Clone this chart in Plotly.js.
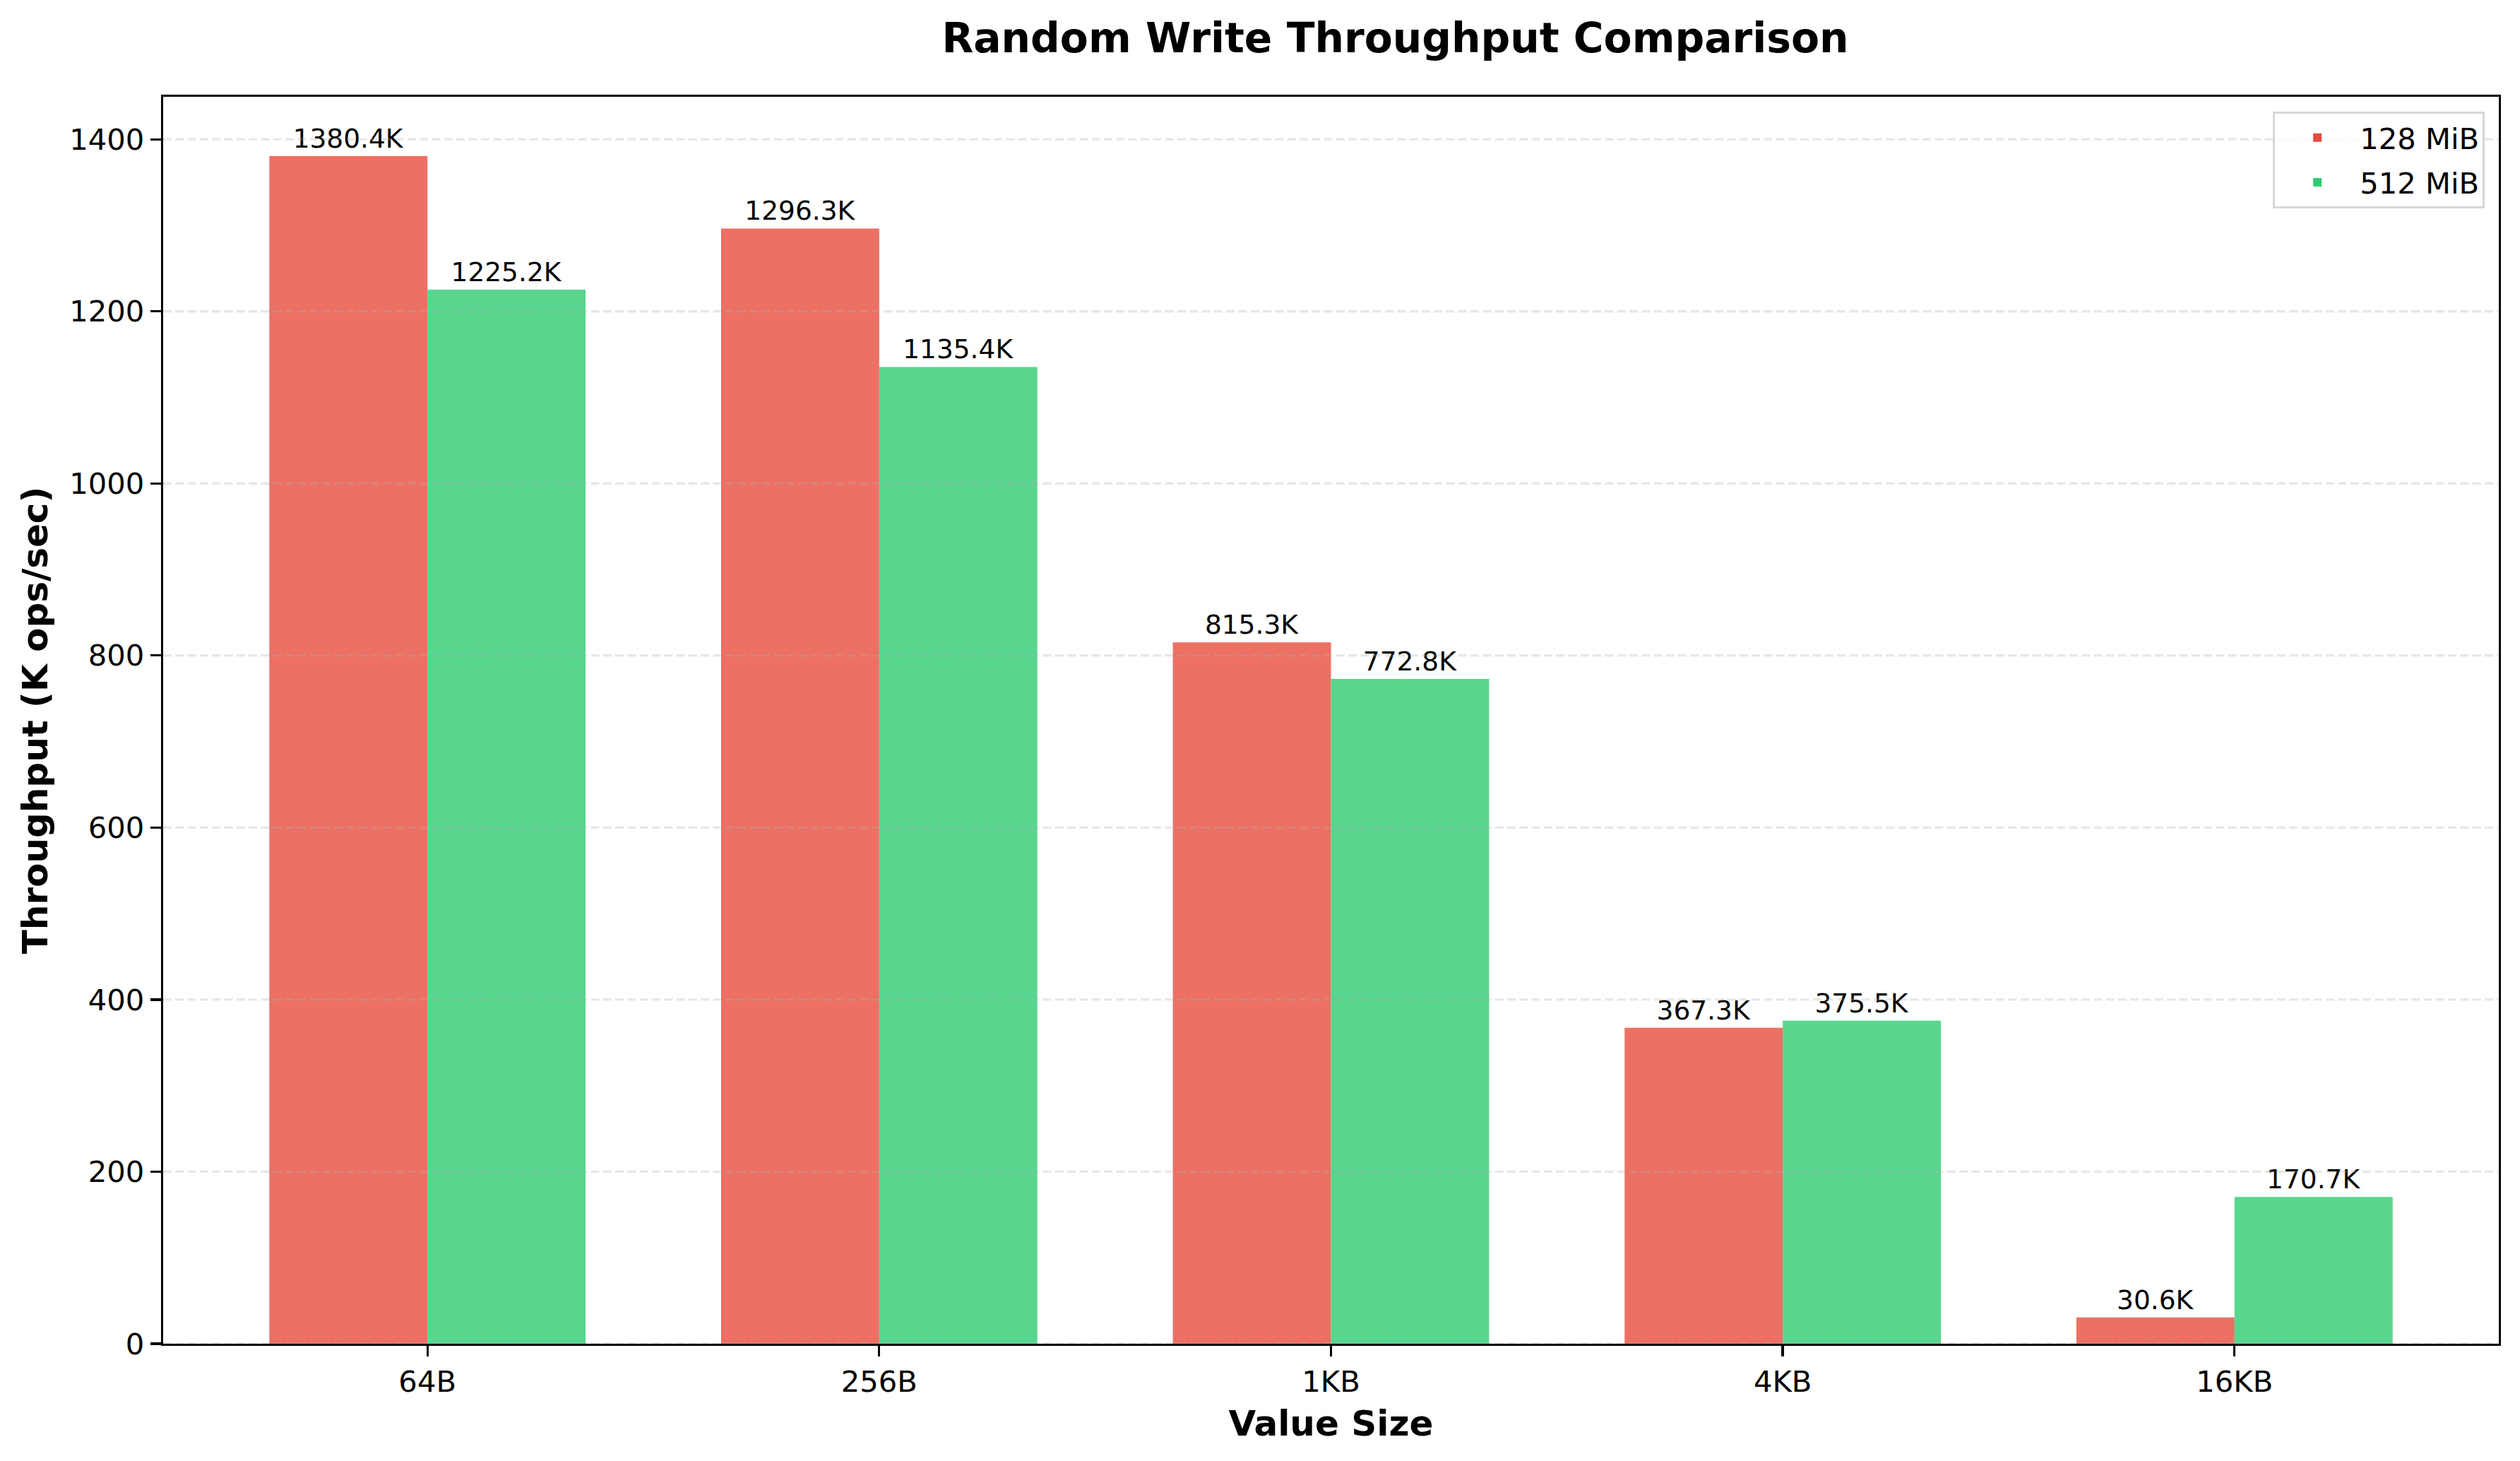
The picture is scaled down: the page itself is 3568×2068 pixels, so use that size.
<!DOCTYPE html>
<html>
<head>
<meta charset="utf-8">
<script src="https://cdn.plot.ly/plotly-3.0.1.min.js"></script>
<style>
  html, body { margin: 0; padding: 0; background: #ffffff; }
  #chart { width: 3568px; height: 2068px; }
</style>
</head>
<body>
<div id="chart"></div>
<script>
const categories = ["64B", "256B", "1KB", "4KB", "16KB"];
const series128 = [1380.4, 1296.3, 815.3, 367.3, 30.6];
const series512 = [1225.2, 1135.4, 772.8, 375.5, 170.7];
const seriesNames = ["128 MiB", "512 MiB"];
const yTicks = [0, 200, 400, 600, 800, 1000, 1200, 1400];

const FONT = "DejaVu Sans, Verdana, sans-serif";

const common = {
  type: "bar",
  x: categories,
  texttemplate: "%{y:.1f}K",
  textposition: "outside",
  cliponaxis: false,
  constraintext: "none",
  textfont: { family: FONT, size: 37.5, color: "#000000" },
  hoverinfo: "skip"
};

const traces = [
  Object.assign({}, common, {
    name: seriesNames[0],
    legendgroup: "a",
    y: series128,
    marker: { color: "#e74c3c", opacity: 0.8, line: { width: 0 } }
  }),
  Object.assign({}, common, {
    name: seriesNames[1],
    legendgroup: "b",
    y: series512,
    marker: { color: "#2ecc71", opacity: 0.8, line: { width: 0 } }
  })
];

const maxVal = Math.max(...series128, ...series512);

// dashed grid lines drawn above the bars (as in the reference)
const gridShapes = yTicks.map(v => ({
  type: "line", layer: "above",
  xref: "paper", x0: 0, x1: 1,
  yref: "y", y0: v, y1: v,
  line: { color: "rgba(176,176,176,0.3)", width: 3.3, dash: "12px,5.3px" }
}));

const layout = {
  width: 3568,
  height: 2068,
  paper_bgcolor: "#ffffff",
  plot_bgcolor: "#ffffff",
  font: { family: FONT, color: "#000000", size: 41.7 },
  margin: { l: 231, r: 30, t: 137, b: 166, pad: 0 },
  barmode: "group",
  bargap: 0.3,
  bargroupgap: 0,
  showlegend: true,
  shapes: gridShapes,
  title: {
    text: "<b>Random Write Throughput Comparison</b>",
    font: { family: FONT, size: 58.3, color: "#000000" },
    x: 0.5275, xref: "paper", xanchor: "center",
    y: 1 - 54 / 2068, yref: "container", yanchor: "middle"
  },
  xaxis: {
    type: "category",
    range: [-0.585, 4.585],
    showline: true, linecolor: "#000000", linewidth: 3.3, mirror: true,
    ticks: "outside", ticklen: 15, tickwidth: 3.3, tickcolor: "#000000",
    tickfont: { family: FONT, size: 41.7, color: "#000000" },
    showgrid: false, zeroline: false,
    automargin: false,
    title: {
      text: "<b>Value Size</b>",
      font: { family: FONT, size: 50, color: "#000000" },
      standoff: 18
    }
  },
  yaxis: {
    range: [0, maxVal * 1.05],
    tickvals: yTicks,
    ticktext: yTicks.map(String),
    showline: true, linecolor: "#000000", linewidth: 3.3, mirror: true,
    ticks: "outside", ticklen: 15, tickwidth: 3.3, tickcolor: "#000000",
    tickfont: { family: FONT, size: 41.7, color: "#000000" },
    showgrid: false,
    zeroline: false,
    automargin: false,
    title: {
      text: "<b>Throughput (K ops/sec)</b>",
      font: { family: FONT, size: 50, color: "#000000" },
      standoff: 15
    }
  },
  legend: {
    x: 0.994, xanchor: "right", xref: "paper",
    y: 0.988, yanchor: "top", yref: "paper",
    bgcolor: "rgba(255,255,255,0.8)",
    bordercolor: "#d6d6d6", borderwidth: 3,
    font: { family: FONT, size: 41.7, color: "#000000" },
    itemwidth: 110,
    tracegroupgap: 6
  }
};

Plotly.newPlot("chart", traces, layout, { staticPlot: true, displayModeBar: false });
</script>
</body>
</html>
